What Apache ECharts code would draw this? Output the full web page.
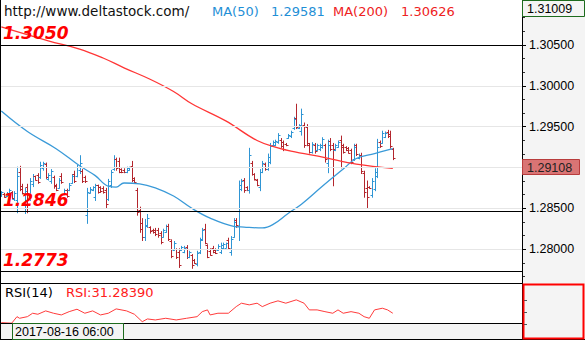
<!DOCTYPE html>
<html><head><meta charset="utf-8">
<script src="https://cdn.jsdelivr.net/npm/echarts@6/dist/echarts.min.js"></script>
<style>html,body{margin:0;padding:0;background:#fff}#c{width:585px;height:340px}</style>
</head><body><div id="c"></div>
<script>
// ---- data ----
const slotCount = 200;
// [open, high, low, close]
const bars = [
[1.2865,1.2871,1.2864,1.2870],[1.2868,1.2869,1.2863,1.2864],[1.2865,1.2870,1.2864,1.2869],[1.2866,1.2874,1.2864,1.2872],
[1.2870,1.2871,1.2861,1.2863],[1.2862,1.2871,1.2859,1.2869],[1.2860,1.2901,1.2844,1.2890],[1.2895,1.2902,1.2871,1.2874],
[1.2877,1.2880,1.2867,1.2869],[1.2856,1.2875,1.2843,1.2871],[1.2876,1.2880,1.2844,1.2855],[1.2862,1.2887,1.2859,1.2884],
[1.2880,1.2892,1.2876,1.2889],[1.2889,1.2890,1.2884,1.2885],[1.2891,1.2893,1.2880,1.2882],[1.2888,1.2907,1.2886,1.2903],
[1.2899,1.2907,1.2896,1.2905],[1.2904,1.2906,1.2886,1.2888],[1.2886,1.2893,1.2884,1.2891],[1.2884,1.2898,1.2880,1.2896],
[1.2888,1.2890,1.2874,1.2877],[1.2878,1.2880,1.2871,1.2873],[1.2875,1.2887,1.2874,1.2885],[1.2890,1.2893,1.2880,1.2882],
[1.2868,1.2874,1.2866,1.2872],[1.2872,1.2874,1.2863,1.2865],[1.2873,1.2881,1.2871,1.2879],[1.2881,1.2892,1.2880,1.2890],
[1.2892,1.2896,1.2881,1.2884],[1.2890,1.2903,1.2888,1.2900],[1.2897,1.2915,1.2892,1.2906],[1.2896,1.2898,1.2881,1.2884],
[1.2888,1.2890,1.2881,1.2883],[1.2842,1.2875,1.2831,1.2870],[1.2869,1.2876,1.2868,1.2874],[1.2872,1.2877,1.2871,1.2876],
[1.2864,1.2880,1.2859,1.2878],[1.2878,1.2879,1.2868,1.2870],[1.2876,1.2877,1.2869,1.2871],[1.2875,1.2877,1.2868,1.2870],
[1.2873,1.2875,1.2850,1.2855],[1.2862,1.2886,1.2859,1.2883],[1.2878,1.2897,1.2875,1.2894],[1.2898,1.2915,1.2896,1.2910],
[1.2910,1.2912,1.2896,1.2899],[1.2908,1.2912,1.2893,1.2895],[1.2898,1.2899,1.2893,1.2894],[1.2897,1.2899,1.2893,1.2895],
[1.2894,1.2901,1.2893,1.2899],[1.2897,1.2901,1.2896,1.2900],[1.2902,1.2908,1.2882,1.2885],[1.2887,1.2888,1.2881,1.2882],
[1.2873,1.2875,1.2841,1.2845],[1.2848,1.2852,1.2820,1.2825],[1.2832,1.2838,1.2810,1.2815],[1.2815,1.2837,1.2810,1.2830],
[1.2828,1.2843,1.2826,1.2838],[1.2827,1.2828,1.2819,1.2822],[1.2824,1.2825,1.2819,1.2821],[1.2824,1.2826,1.2816,1.2818],
[1.2823,1.2826,1.2814,1.2817],[1.2820,1.2822,1.2806,1.2809],[1.2815,1.2825,1.2814,1.2823],[1.2821,1.2830,1.2820,1.2828],
[1.2828,1.2831,1.2810,1.2813],[1.2810,1.2812,1.2789,1.2792],[1.2799,1.2810,1.2798,1.2807],[1.2800,1.2801,1.2788,1.2790],
[1.2797,1.2801,1.2777,1.2781],[1.2799,1.2804,1.2798,1.2803],[1.2796,1.2804,1.2795,1.2802],[1.2803,1.2805,1.2788,1.2791],
[1.2790,1.2798,1.2789,1.2796],[1.2793,1.2794,1.2776,1.2780],[1.2787,1.2788,1.2782,1.2783],[1.2782,1.2798,1.2779,1.2795],
[1.2796,1.2814,1.2794,1.2811],[1.2812,1.2826,1.2810,1.2823],[1.2825,1.2831,1.2806,1.2808],[1.2805,1.2806,1.2789,1.2791],
[1.2798,1.2801,1.2792,1.2793],[1.2802,1.2804,1.2795,1.2796],[1.2799,1.2801,1.2794,1.2795],[1.2799,1.2806,1.2798,1.2804],
[1.2797,1.2808,1.2794,1.2805],[1.2801,1.2808,1.2800,1.2806],[1.2802,1.2808,1.2801,1.2807],[1.2811,1.2814,1.2800,1.2802],
[1.2796,1.2816,1.2792,1.2813],[1.2815,1.2838,1.2814,1.2833],[1.2836,1.2838,1.2826,1.2829],[1.2828,1.2884,1.2810,1.2878],
[1.2874,1.2886,1.2871,1.2883],[1.2885,1.2887,1.2869,1.2872],[1.2876,1.2877,1.2871,1.2873],[1.2872,1.2924,1.2868,1.2915],
[1.2906,1.2908,1.2890,1.2892],[1.2892,1.2893,1.2884,1.2886],[1.2885,1.2886,1.2877,1.2879],[1.2876,1.2898,1.2871,1.2895],
[1.2895,1.2908,1.2893,1.2905],[1.2904,1.2906,1.2896,1.2898],[1.2898,1.2917,1.2896,1.2913],[1.2907,1.2930,1.2904,1.2926],
[1.2927,1.2933,1.2926,1.2931],[1.2928,1.2934,1.2926,1.2932],[1.2931,1.2942,1.2929,1.2940],[1.2934,1.2936,1.2924,1.2926],
[1.2931,1.2933,1.2920,1.2923],[1.2929,1.2930,1.2926,1.2927],[1.2936,1.2941,1.2935,1.2940],[1.2938,1.2945,1.2936,1.2943],
[1.2948,1.2962,1.2946,1.2959],[1.2960,1.2978,1.2947,1.2950],[1.2948,1.2953,1.2947,1.2952],[1.2945,1.2972,1.2939,1.2966],
[1.2952,1.2955,1.2924,1.2927],[1.2950,1.2953,1.2926,1.2930],[1.2928,1.2930,1.2917,1.2919],[1.2919,1.2931,1.2917,1.2929],
[1.2928,1.2930,1.2917,1.2920],[1.2921,1.2929,1.2920,1.2927],[1.2922,1.2929,1.2920,1.2928],[1.2925,1.2937,1.2923,1.2935],
[1.2927,1.2929,1.2906,1.2910],[1.2905,1.2934,1.2893,1.2928],[1.2932,1.2936,1.2920,1.2922],[1.2928,1.2930,1.2877,1.2922],
[1.2921,1.2929,1.2920,1.2927],[1.2925,1.2933,1.2924,1.2931],[1.2934,1.2939,1.2899,1.2925],[1.2927,1.2929,1.2917,1.2919],
[1.2925,1.2926,1.2920,1.2921],[1.2924,1.2925,1.2917,1.2918],[1.2921,1.2923,1.2904,1.2907],[1.2910,1.2929,1.2908,1.2925],
[1.2927,1.2929,1.2914,1.2916],[1.2911,1.2917,1.2910,1.2915],[1.2915,1.2918,1.2892,1.2896],[1.2893,1.2896,1.2863,1.2870],
[1.2875,1.2884,1.2850,1.2864],[1.2876,1.2877,1.2874,1.2875],[1.2866,1.2887,1.2863,1.2883],[1.2874,1.2899,1.2871,1.2895],
[1.2890,1.2935,1.2887,1.2925],[1.2931,1.2933,1.2924,1.2926],[1.2930,1.2945,1.2929,1.2942],[1.2937,1.2944,1.2936,1.2942],
[1.2944,1.2946,1.2936,1.2938],[1.2941,1.2945,1.2923,1.2926],[1.2922,1.2924,1.2909,1.2911]
];
// [bar index, value]
const ma50 = [[0,1.2969],[10,1.2944],[21,1.2923],[30,1.2902],[36,1.2890],[41,1.2877],[44,1.2876],[47,1.2881],[53,1.2880],
  [59,1.2875],[66,1.2865],[73,1.2850],[80,1.2838],[89,1.2828],[93,1.2827],[100,1.2826],[104,1.2830],[110,1.2844],
  [115,1.2855],[123,1.2877],[131,1.2898],[136,1.2911],[143,1.2917],[150,1.2923]];
const ma200 = [[0,1.3072],[18,1.3055],[30,1.3045],[39,1.3034],[47,1.3022],[57,1.3008],[66,1.2993],[73,1.2978],
  [86,1.2957],[98,1.2933],[106,1.2924],[111,1.2920],[124,1.2912],[136,1.2904],[150,1.2899]];
const rsi = [[0,31.3],[4,30.5],[6,40.2],[7,37.8],[10,40.2],[12,45.3],[14,43.8],[17,48.8],[20,45.3],[23,42.8],[26,47.7],
  [29,51.3],[32,45.3],[35,48.8],[38,42.8],[41,45.3],[44,51.8],[48,48.8],[51,43.8],[54,32.7],[56,36.8],[59,35.3],[63,37.8],
  [67,35.3],[71,37.8],[75,40.2],[77,47.7],[79,50.3],[80,42.8],[83,45.3],[87,45.3],[90,55.2],[92,60.3],[95,57.8],[98,60.3],
  [100,55.2],[103,60.3],[106,63.8],[109,60.3],[113,65.3],[116,60.3],[118,50.3],[121,50.3],[124,47.7],[127,45.3],[129,50.3],
  [131,45.3],[134,47.7],[137,45.3],[139,40.2],[141,37.8],[143,50.3],[146,52.8],[148,50.3],[150,45.3]];
const levels = [1.3050, 1.2846, 1.2773];
const gridTicks = [1.280, 1.285, 1.290, 1.295, 1.300, 1.305];
const lastPrice = 1.29108;
const maxPriceText = '1.31009';
const headerTexts = {url:'http://www.deltastock.com/', ma50Label:'MA(50)', ma50Value:'1.29581', ma200Label:'MA(200)', ma200Value:'1.30626'};
const rsiTexts = {name:'RSI(14)', value:'RSI:31.28390'};
const dateText = '2017-08-16 06:00';

// ---- chart ----
const UP = '#2f95d4', DOWN = '#b3262d';
const chart = echarts.init(document.getElementById('c'), null, {renderer:'svg'});
const slots = Array.from({length: slotCount}, (_, i) => String(i));

function renderOHLC(params, api) {
  const i = api.value(0);
  const o = api.value(1), h = api.value(2), l = api.value(3), c = api.value(4);
  const x = Math.round(api.coord([i, h])[0]) + 0.5;
  const yH = api.coord([i, h])[1], yL = api.coord([i, l])[1];
  const yO = Math.round(api.coord([i, o])[1]) + 0.5, yC = Math.round(api.coord([i, c])[1]) + 0.5;
  const st = {stroke: c >= o ? UP : DOWN, lineWidth: 1};
  return {type:'group', children:[
    {type:'line', shape:{x1:x, y1:yH, x2:x, y2:yL}, style:st},
    {type:'line', shape:{x1:x-2, y1:yO, x2:x, y2:yO}, style:st},
    {type:'line', shape:{x1:x, y1:yC, x2:x+2, y2:yC}, style:st}
  ]};
}

const labelFont = {fontFamily:'DejaVu Sans', fontWeight:'bold', fontStyle:'italic', fontSize:17, color:'#ff0000'};

chart.setOption({
  animation:false,
  backgroundColor:'#ffffff',
  grid:[
    {left:0, right:63, top:0, height:290},
    {left:0, right:63, top:290, bottom:16.5}
  ],
  xAxis:[
    {type:'category', data:slots, gridIndex:0, show:false},
    {type:'category', data:slots, gridIndex:1, show:false}
  ],
  yAxis:[
    {type:'value', gridIndex:0, position:'right', min:1.275, max:1.3105, interval:0.005,
     axisLine:{show:false}, splitLine:{show:false},
     axisTick:{show:true, length:4, lineStyle:{color:'#000'}},
     minorTick:{show:true, splitNumber:3, length:3, lineStyle:{color:'#333'}},
     axisLabel:{margin:7, color:'#000', fontFamily:'Liberation Sans', fontSize:12.5,
       formatter: v => (v > 1.2751 && v < 1.3099 && Math.abs(v - lastPrice) > 0.0015) ? v.toFixed(5) : ''}},
    {type:'value', gridIndex:1, min:30, max:80, show:false}
  ],
  series:[
    {type:'line', xAxisIndex:0, yAxisIndex:0, data:[], z:1, silent:true,
     markLine:{symbol:'none', silent:true, precision:5, label:{show:false},
       lineStyle:{color:'#e6e6e6', width:1, type:'solid'},
       data: gridTicks.map(v => ({yAxis:v}))}},
    {type:'custom', name:'bars', xAxisIndex:0, yAxisIndex:0, z:2,
     renderItem: renderOHLC,
     encode:{x:0, y:[1,2,3,4]},
     data: bars.map((b, i) => [i, b[0], b[1], b[2], b[3]])},
    {type:'line', name:'MA50', xAxisIndex:0, yAxisIndex:0, z:3, data:ma50, smooth:0.4,
     showSymbol:false, lineStyle:{color:'#3a9ad8', width:1.3}},
    {type:'line', name:'MA200', xAxisIndex:0, yAxisIndex:0, z:3, data:ma200, smooth:0.4,
     showSymbol:false, lineStyle:{color:'#ff3535', width:1.3},
     markLine:{symbol:'none', silent:true, z:5, precision:5,
       lineStyle:{color:'#000', width:1, type:'solid'},
       label:Object.assign({show:true, position:'insideStartTop', distance:[3,3],
         formatter: p => Number(p.value).toFixed(4)}, labelFont),
       data: levels.map(v => ({yAxis:v}))}},
    {type:'line', name:'RSI', xAxisIndex:1, yAxisIndex:1, data:rsi, smooth:false,
     showSymbol:false, lineStyle:{color:'#ff3b3b', width:1}}
  ]
});

const yLast = chart.convertToPixel({yAxisIndex:0}, lastPrice);
const txt = (x, y, text, color, extra) => ({type:'text', x, y, z:120,
  style:Object.assign({text, fill:color, font:'13px "DejaVu Sans"', textVerticalAlign:'middle'}, extra || {})});

chart.setOption({graphic:[
  {type:'rect', z:-10, shape:{x:522, y:0, width:63, height:340}, style:{fill:'#f4f4f4'}},
  {type:'rect', z:-10, shape:{x:0, y:323, width:522, height:17}, style:{fill:'#f4f4f4'}},
  {type:'line', z:110, shape:{x1:522.5, y1:0, x2:522.5, y2:340}, style:{stroke:'#000', lineWidth:1}},
  {type:'line', z:110, shape:{x1:0.5, y1:0, x2:0.5, y2:340}, style:{stroke:'#000', lineWidth:1}},
  {type:'line', z:110, shape:{x1:0, y1:283.5, x2:522, y2:283.5}, style:{stroke:'#000', lineWidth:1}},
  {type:'line', z:110, shape:{x1:0, y1:323.5, x2:522, y2:323.5}, style:{stroke:'#000', lineWidth:1}},
  {type:'line', z:110, shape:{x1:0, y1:339.5, x2:585, y2:339.5}, style:{stroke:'#000', lineWidth:1}},
  // top max box
  {type:'rect', z:110, shape:{x:522.5, y:0.5, width:62, height:16}, style:{fill:'#f4f4f4', stroke:'#1d6b1d', lineWidth:1}},
  {type:'text', z:120, x:527, y:9, style:{text:maxPriceText, fill:'#000', font:'12.5px "Liberation Sans"', textVerticalAlign:'middle'}},
  // last price box
  {type:'rect', z:110, shape:{x:522.5, y:Math.round(yLast)+0.5, width:57, height:15}, style:{fill:'#d97474', stroke:'#b83c3c', lineWidth:1}},
  {type:'text', z:120, x:527, y:Math.round(yLast)+8.5, style:{text:lastPrice.toFixed(5), fill:'#222', font:'12.5px "Liberation Sans"', textVerticalAlign:'middle'}},
  // RSI axis box
  {type:'rect', z:110, shape:{x:523.5, y:284.5, width:60, height:54}, style:{fill:'#f4f4f4', stroke:'#ff0000', lineWidth:2}},
  {type:'line', z:115, shape:{x1:524, y1:300.5, x2:527, y2:300.5}, style:{stroke:'#555', lineWidth:1}},
  {type:'line', z:115, shape:{x1:524, y1:312.5, x2:527, y2:312.5}, style:{stroke:'#555', lineWidth:1}},
  {type:'line', z:115, shape:{x1:524, y1:324.5, x2:527, y2:324.5}, style:{stroke:'#555', lineWidth:1}},
  // date box
  {type:'rect', z:110, shape:{x:12.5, y:323.5, width:111, height:16}, style:{fill:'#f4f4f4', stroke:'#1d6b1d', lineWidth:1}},
  {type:'text', z:120, x:15, y:332, style:{text:dateText, fill:'#000', font:'12.5px "Liberation Sans"', textVerticalAlign:'middle'}},
  // header
  txt(4, 11, headerTexts.url, '#111', {font:'13.5px "DejaVu Sans"'}),
  txt(212, 11, headerTexts.ma50Label, '#1f8fd6'),
  txt(271, 11, headerTexts.ma50Value, '#1f8fd6'),
  txt(333, 11, headerTexts.ma200Label, '#ee2222'),
  txt(401, 11, headerTexts.ma200Value, '#ee2222'),
  txt(5, 292, rsiTexts.name, '#000'),
  txt(66, 292, rsiTexts.value, '#ff2020')
]});
</script></body></html>
